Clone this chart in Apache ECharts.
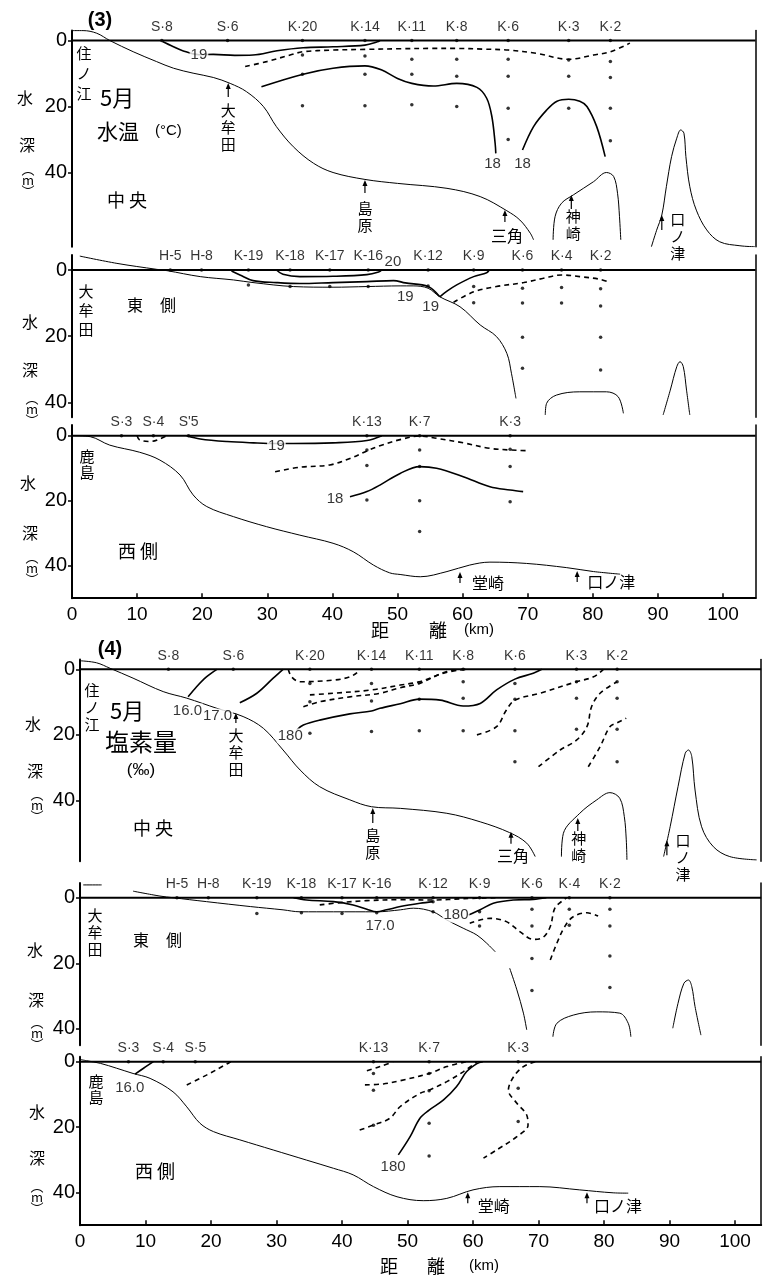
<!DOCTYPE html>
<html><head><meta charset="utf-8">
<script src="https://cdn.jsdelivr.net/npm/echarts@6/dist/echarts.min.js"></script>
<style>html,body{margin:0;padding:0;background:#fff}#c{width:768px;height:1284px}</style>
</head><body><div id="c"></div>
<script>
// ---------------- DATA (km, depth m) ----------------
const xTicks=[0,10,20,30,40,50,60,70,80,90,100];
const yTicks=[0,20,40];

// (3) 水温 中央
const stationsT_C=[['S·8',13.8],['S·6',23.9],['K·20',35.4],['K·14',45.0],['K·11',52.2],['K·8',59.1],['K·6',67.0],['K·3',76.3],['K·2',82.7]];
const dotsT_C=[[13.8,0],[23.9,0],[35.4,0],[35.4,4.4],[35.4,10.2],[35.4,19.8],[45.0,0],[45.0,4.7],[45.0,10.2],[45.0,19.8],
 [52.2,0],[52.2,5.7],[52.2,10.2],[52.2,19.5],[59.1,0],[59.1,5.7],[59.1,10.8],[59.1,20.0],[67.0,0],[67.0,5.7],[67.0,10.8],[67.0,20.5],[67.0,30.0],
 [76.3,0],[76.3,5.9],[76.3,10.8],[76.3,20.5],[82.7,0],[82.7,6.4],[82.7,11.2],[82.7,20.5],[82.7,30.4]];
const bottomT_C=[
 [[0,-3],[1.7,-3],[3.8,-2.2],[5.8,0],[9.4,3.4],[13,6.4],[15.6,8.4],[18.6,9.9],[21.7,11.2],[24.3,13],[26.8,15.5],[29.4,20],[31.4,26.1],[34,32.2],[37.1,37.2],[40.1,40],[45,42.1],[50,43.3],[57.6,44.8],[62.7,47.3],[66.8,51.6],[68.8,54.4],[70.4,58.4],[70.9,60.4]],
 [[73.9,60.4],[74.2,53.4],[75.2,49.3],[77,46.8],[80.1,42.8],[82.1,40],[83.2,41.2],[83.8,46.3],[84.1,53.4],[84.3,60.4]],
 [[89.0,62.5],[89.8,57.5],[90.6,52.9],[91.3,44.3],[92.1,35.2],[92.9,29.6],[93.5,27.1],[94.0,28.1],[94.3,35.2],[94.9,44.3],[95.9,51.4],[97.5,57.4],[99.5,61],[102.6,62.2],[104.9,62.5]]
];
const isoSolidT_C=[
 [[13.9,0.3],[15.5,1.8],[17,3.1],[19.5,4.3],[21.7,4.2],[25,4.5],[27.8,4.4],[31.5,3.1],[35.5,2.2],[40.1,1.9],[45,1.4],[46.9,0.4],[47.3,0]],
 [[29.1,14],[35.5,10.2],[40.1,8.4],[45,7.7],[47.5,8.9],[50,11.5],[52.2,13],[55.5,13.8],[59.1,13],[62.2,14.2],[63.7,17.5],[64.5,23.1],[65.0,31.2],[65.1,34.2]],
 [[69.2,33.2],[70.9,26.1],[72.9,21.1],[74.5,18.4],[76.3,17.8],[78,18.4],[79.1,20],[80.6,26.1],[81.9,35.2]]
];
const isoDashT_C=[
 [[26.6,7.9],[29.9,6.4],[33.5,4.4],[35.5,3.4],[40.1,2.9],[45,2.7],[50.4,2.5],[55,2.4],[59.1,2.4],[63,2.6],[67.0,2.9],[71.4,3.9],[76.3,5.7],[80.1,4.4],[82.7,3.4],[85.7,0.8]]
];
const isoLabelsT_C=[['19',19.5,4.4],['18',64.6,37.3],['18',69.2,37.3]];
const placesT_C=[['大牟田',24.0,12.9],['島原',45.0,42.3],['三角',66.5,51.4],['神崎',76.7,46.8],['口ノ津',90.6,52.9]];

// (3) 水温 東側
const stationsT_E=[['H-5',15.1],['H-8',19.9],['K-19',27.1],['K-18',33.5],['K-17',39.6],['K-16',45.5],['K·12',54.7],['K·9',61.7],['K·6',69.2],['K·4',75.2],['K·2',81.2]];
const dotsT_E=[[15.1,0],[19.9,0],[27.1,0],[27.1,4.5],[33.5,0],[33.5,5],[39.6,0],[39.6,5],[45.5,0],[45.5,5],[54.7,0],[54.7,4.8],
 [61.7,0],[61.7,5],[61.7,9.9],[69.2,0],[69.2,5.5],[69.2,10],[69.2,20.3],[69.2,29.7],[75.2,0],[75.2,5.3],[75.2,10],
 [81.2,0],[81.2,5.7],[81.2,10.9],[81.2,20.3],[81.2,30.2]];
const bottomT_E=[
 [[1.2,-4.2],[6.9,-2.0],[13,-0.2],[14.6,0.2],[19.7,2],[24.8,3],[27.8,3.8],[34,5],[40.1,5.2],[45.3,5],[50.4,4.8],[52.4,4.8],[54.7,5.5],[56.5,8.1],[59.6,11.1],[62.7,16.6],[65.2,20.1],[66.8,25.2],[67.5,31.2],[68.2,38.8]],
 [[72.7,43.8],[72.9,40.3],[74.4,37.8],[78,36.8],[82.1,36.8],[83.9,38.3],[84.7,43.3]],
 [[90.8,43.8],[91.9,36.3],[92.9,29.2],[93.4,27.7],[93.9,29.2],[94.4,36.3],[94.9,43.8]]
];
const isoSolidT_E=[
 [[31.4,0],[32.4,1.3],[35,2],[40.1,1.9],[45.3,1.4],[47.1,0.6],[47.6,0]],
 [[24.5,0.3],[25.8,1.5],[27.8,3.2],[31.4,3.8],[35,4.1],[40.1,3.8],[45.3,3.5],[49.4,3.2],[51.2,3.9],[54.7,5],[56.5,8.1]],
 [[56.5,8.1],[57.6,6.4],[59.1,4.5],[61.7,2],[63.7,0.8],[64.1,0]]
];
const isoDashT_E=[
 [[58.6,9.8],[61.7,6.6],[65.2,5],[69.4,3.8],[72.4,2.5],[75.2,1.5],[78,2],[81.1,2.8],[82.6,3.8]]
];
const isoLabelsT_E=[['20',49.3,-2.6],['19',51.2,8.0],['19',55.1,11.0]];

// (3) 水温 西側
const stationsT_W=[['S·3',7.6],['S·4',12.5],["S'5",17.9],['K·13',45.3],['K·7',53.4],['K·3',67.3]];
const dotsT_W=[[7.6,0],[12.5,0],[17.9,0],[45.3,0],[45.3,4.4],[45.3,9.2],[45.3,19.8],[53.4,0],[53.4,4.4],[53.4,9.5],[53.4,20.0],[53.4,29.5],
 [67.3,0],[67.3,4.2],[67.3,9.5],[67.3,20.3]];
const bottomT_W=[
 [[0.2,0],[2.8,0.3],[5.8,2.9],[10.4,5.1],[13.5,7.5],[16.6,12.1],[18.6,18.2],[20.7,21.8],[24.8,24.9],[29.9,28],[35,30.6],[40.1,33.1],[43.2,35.7],[46.3,39.8],[48.8,42.2],[50.4,42.7],[53.5,43.4],[57.6,41.8],[61.1,39.8],[64.2,38.9],[69.8,39.3],[76,40.6],[80.1,41.8],[84.2,42.6]]
];
const isoSolidT_W=[
 [[17.6,0],[19.7,1],[23.8,1.8],[27.9,2.2],[31.4,2.4],[34,2.4],[40.1,2.2],[45.3,1.5],[47.6,0]],
 [[42.7,18.8],[45.3,17.2],[47.3,15.2],[50.4,11.6],[53.4,9.5],[56,10],[60.1,12.6],[64.2,15.7],[67.3,16.7],[69.3,17.2]]
];
const isoDashT_W=[
 [[10.0,0],[10.4,1.3],[12,1.8],[13.5,1],[14.5,0]],
 [[31.2,11.1],[35,9.7],[39.6,9],[42.7,7],[45.3,4.7],[47.3,3.1],[50.4,1.2],[53.4,0.1],[56,0.8],[60.1,2.2],[64.2,3.9],[67.3,4.4],[69.8,4.6]]
];
const isoLabelsT_W=[['19',31.4,3.2],['18',40.4,19.3]];
const placesT_W=[['堂崎',59.6,41.9],['口ノ津',77.6,41.6]];

// (4) 塩素量 中央
const stationsS_C=[['S·8',13.5],['S·6',23.4],['K·20',35.1],['K·14',44.5],['K·11',51.8],['K·8',58.5],['K·6',66.4],['K·3',75.8],['K·2',82.0]];
const dotsS_C=[[13.5,0],[23.4,0],[35.1,0],[35.1,4.3],[35.1,9.9],[35.1,19.5],[44.5,0],[44.5,4.3],[44.5,9.7],[44.5,19.0],
 [51.8,0],[51.8,4.1],[51.8,9.1],[51.8,18.7],[58.5,0],[58.5,3.8],[58.5,8.8],[58.5,18.7],[66.4,0],[66.4,4.3],[66.4,9.1],[66.4,18.7],[66.4,28.2],
 [75.8,0],[75.8,3.8],[75.8,8.8],[75.8,18.3],[82.0,0],[82.0,3.8],[82.0,8.8],[82.0,18.3],[82.0,28.2]];
const bottomS_C=[
 [[0,-2.6],[2.5,-2],[4.6,-0.3],[8.1,2.7],[12.7,6.8],[16.3,8.8],[20.9,11.9],[24.9,14.4],[28,18],[31,24.6],[33.6,30.7],[36.6,35.8],[41.2,39.8],[44.5,41.9],[48.9,42.4],[56,43.9],[61.1,46.5],[65.6,49.8],[68.2,53],[69.5,57.1]],
 [[73.5,57.1],[73.8,50],[76.3,43.9],[78.9,39.8],[80.9,37.6],[82.4,39.3],[83.1,44.9],[83.4,52],[83.5,58.1]],
 [[89.1,57.1],[90.1,48],[91.3,35.8],[92.4,25.6],[92.9,24.6],[93.4,26.6],[93.9,36.8],[94.9,48],[96.7,54.1],[99.2,57.1],[103.3,58.1]]
];
const isoSolidS_C=[
 [[20.9,0],[19.3,2.3],[17.8,5.3],[16.5,8.4]],
 [[31,0],[29.5,2.7],[27,7.3],[24.4,10.2]],
 [[33.1,18.5],[34.1,17],[36.6,15.5],[41.2,13.6],[44.5,12.7],[45.8,11.9],[48.9,10.5],[51.8,9.1],[55,9.4],[58.5,11.2],[61.1,10.4],[63.6,6.3],[66.4,3],[69.2,1.2],[70.5,0]]
];
const isoDashS_C=[
 [[31.8,0],[32.3,2.3],[33.6,3.8],[38.7,3.3],[41.2,2.3],[42.5,0.7],[42.7,0]],
 [[35.1,7.8],[38.7,7.3],[44.5,6.3],[48.9,4.8],[51.8,3.8],[55.5,1.2],[58.5,0]],
 [[34.1,11.4],[36.6,9.9],[41.2,8.4],[45.8,7.3],[48.9,5.6],[51.8,4.3],[56,0.7],[59.3,0]],
 [[60.6,20],[63.6,17.5],[65.1,12.4],[66.4,9.4],[70.2,7.3],[75.8,3.8],[78.4,2.3],[79.9,0]],
 [[70,29.7],[73.3,24.6],[75.8,21.6],[77.4,17.5],[78.1,11.4],[79.4,7.3],[82,3.8]],
 [[77.6,29.7],[79.4,23.6],[80.9,17.5],[82,16.3],[83.4,14.9]]
];
const isoLabelsS_C=[['16.0',16.4,12.7],['17.0',21.0,14.2],['180',32.1,20.3]];
const placesS_C=[['大牟田',23.8,13.3],['島原',44.7,42.3],['三角',65.8,49.5],['神崎',76.0,45.3],['口ノ津',89.6,52.1]];

// (4) 塩素量 東側
const stationsS_E=[['H-5',14.8],['H-8',19.6],['K-19',27],['K-18',33.8],['K-17',40],['K-16',45.3],['K·12',53.9],['K·9',61],['K·6',69],['K·4',74.7],['K·2',80.9]];
const dotsS_E=[[14.8,0],[19.6,0],[27,0],[27,4.8],[33.8,0],[33.8,4.6],[40,0],[40,4.8],[45.3,0],[45.3,4.6],[53.9,0],[53.9,1.2],[53.9,4.3],
 [61,0],[61,4.3],[61,8.6],[69,0],[69,3.5],[69,8.6],[69,18.5],[69,28.3],[74.7,0],[74.7,3.5],[74.7,8.4],
 [80.9,0],[80.9,3.5],[80.9,8.6],[80.9,17.8],[80.9,27.4]];
const bottomS_E=[
 [[0.5,-3.9],[3.3,-3.9]],
 [[8.1,-2],[12.2,-0.5],[14.2,0],[19.3,1.2],[26,2.7],[31,3.7],[33.6,4.3],[38.7,4.3],[45.3,4.3],[48.9,3.7],[50.9,3.2],[53.9,4.3],[56,6.8],[58.5,9.3],[60.6,11.4],[62.1,13.9],[63.4,16.5]],
 [[65.6,21.5],[66.7,28.1],[67.7,35.2],[68.2,40.3]],
 [[72.2,42.4],[72.8,38.3],[75.3,35.8],[78.9,34.8],[82.4,35.2],[83.7,38.3],[84.1,42.4]],
 [[90.5,39.8],[91.3,32.2],[92.2,26.1],[92.9,25.1],[93.4,27.1],[93.9,33.2],[94.8,41.9]]
];
const isoSolidS_E=[
 [[32.6,0],[34.6,0.7],[38.7,1.2],[41.7,2.2],[43.8,3.5],[45.3,4.3],[46.8,3.7],[48.9,2.7],[51.9,1.7],[53.9,1.2]],
 [[59.3,5.3],[61.1,3.7],[63.1,1.7],[66.2,0.7],[69.2,0.5],[71.2,0]]
];
const isoDashS_E=[
 [[36.6,2.2],[39.7,1.5],[43.8,0.9],[48.9,0.6],[53.9,0.7],[58.5,0.3],[63.6,0]],
 [[59.5,7.8],[62.6,6.3],[65.1,7.3],[67.2,10.4],[69.2,12.7],[70.7,12.1],[71.8,8.8],[72.5,3.2],[73.8,0.7],[74.3,0]],
 [[71.8,19],[72.8,13.9],[74,8.8],[75.3,5.8],[77.4,4.6],[79.1,5.6]]
];
const isoLabelsS_E=[['17.0',45.8,8.6],['180',57.4,5.3]];

// (4) 塩素量 西側
const stationsS_W=[['S·3',7.4],['S·4',12.7],['S·5',17.6],['K·13',44.8],['K·7',53.3],['K·3',66.9]];
const dotsS_W=[[7.4,0],[12.7,0],[17.6,0],[44.8,0],[44.8,3.6],[44.8,8.7],[44.8,19.4],[53.3,0],[53.3,3.6],[53.3,8.9],[53.3,18.8],[53.3,28.8],
 [66.9,0],[66.9,8.1],[66.9,18.3]];
const bottomS_W=[
 [[0,-0.7],[1,-0.3],[3.1,0.5],[5.6,2],[8.1,3.6],[10.7,5.1],[14.2,9.2],[16.3,13.8],[18.3,18.8],[20.4,21.4],[24.4,23.9],[29.5,27],[34.6,30.1],[38.7,32.6],[41.7,34.6],[44.8,38.2],[48.4,41.3],[52.4,42.5],[56,41.8],[60,39.2],[64.1,38.2],[70.2,38.2],[76.3,39.2],[81.4,40.1],[83.7,40.2]]
];
const isoSolidS_W=[
 [[11.2,0],[9.7,2],[8.4,3.8]],
 [[48.6,28.5],[50.4,22.9],[51.9,17.3],[53.3,14.8],[55.5,11.7],[57.5,7.6],[59,3.1],[60.6,0.6],[61.5,0]]
];
const isoDashS_W=[
 [[16.3,7.1],[19.3,4.1],[22.4,0.7],[23,0]],
 [[43.8,2.8],[45.8,1.5],[47.8,0]],
 [[43.5,7.1],[46.3,6.8],[48.9,5.8],[53.3,3.6],[56,1.5],[59,0]],
 [[42.7,20.9],[44.8,19.4],[47.3,17.3],[48.9,13.7],[51.9,9.7],[53.3,8.7],[56,6.1],[58.5,3.1],[60.6,0]],
 [[69.5,0],[67.7,1.5],[66.2,4.6],[65.4,8.7],[66.7,12.7],[68.2,16.3],[68.4,19.4],[66.7,22.9],[63.6,27],[61.6,29.5]]
];
const isoLabelsS_W=[['16.0',7.6,7.9],['180',47.8,32.1]];
const placesS_W=[['堂崎',59.2,39.9],['口ノ津',77.4,39.9]];

// ---------------- LAYOUT / STYLE ----------------
const FONT_NUM="'Liberation Sans Narrow','Liberation Sans',Arial,sans-serif";
const FONT_LAB="'Liberation Sans',Arial,sans-serif";
const FONT_CJK="'Noto Sans CJK JP','Noto Sans CJK SC',sans-serif";

const layC3={'大牟田':{v:1,L:14,dx:0,dy:19},'島原':{v:1,L:13,dx:0,dy:20},'三角':{v:0,L:12,dx:2,dy:17},'神崎':{v:1,L:14,dx:2,dy:13},'口ノ津':{v:1,L:15,dx:16,dy:-4}};
const layW3={'堂崎':{v:0,L:11,dx:28,dy:3},'口ノ津':{v:0,L:11,dx:34,dy:3}};
const layC4={'大牟田':{v:1,L:10,dx:0,dy:14},'島原':{v:1,L:15,dx:0,dy:19},'三角':{v:0,L:12,dx:2,dy:16},'神崎':{v:1,L:13,dx:1,dy:12},'口ノ津':{v:1,L:15,dx:16,dy:-8}};
const layW4={'堂崎':{v:0,L:11,dx:26,dy:5},'口ノ津':{v:0,L:11,dx:31,dy:5}};

const panels=[
 {left:72,pxKm:6.51,kmMax:105,y0:40.5,pxM:3.3,dmin:-3,dmax:62.5,xLab:false,st:stationsT_C,dots:dotsT_C,bot:bottomT_C,sol:isoSolidT_C,dash:isoDashT_C,lab:isoLabelsT_C,pl:placesT_C,lay:layC3},
 {left:72,pxKm:6.51,kmMax:105,y0:270,pxM:3.31,dmin:-4.5,dmax:44.5,xLab:false,st:stationsT_E,dots:dotsT_E,bot:bottomT_E,sol:isoSolidT_E,dash:isoDashT_E,lab:isoLabelsT_E,pl:[],lay:{}},
 {left:72,pxKm:6.51,kmMax:105,y0:435.7,pxM:3.25,dmin:-3.3,dmax:50,xLab:true,st:stationsT_W,dots:dotsT_W,bot:bottomT_W,sol:isoSolidT_W,dash:isoDashT_W,lab:isoLabelsT_W,pl:placesT_W,lay:layW3},
 {left:80,pxKm:6.55,kmMax:104,y0:669.3,pxM:3.28,dmin:-3,dmax:58.5,xLab:false,st:stationsS_C,dots:dotsS_C,bot:bottomS_C,sol:isoSolidS_C,dash:isoDashS_C,lab:isoLabelsS_C,pl:placesS_C,lay:layC4},
 {left:80,pxKm:6.55,kmMax:104,y0:897.7,pxM:3.28,dmin:-4.5,dmax:45,xLab:false,st:stationsS_E,dots:dotsS_E,bot:bottomS_E,sol:isoSolidS_E,dash:isoDashS_E,lab:isoLabelsS_E,pl:[],lay:{}},
 {left:80,pxKm:6.55,kmMax:104,y0:1061.7,pxM:3.27,dmin:-1.5,dmax:50,xLab:true,st:stationsS_W,dots:dotsS_W,bot:bottomS_W,sol:isoSolidS_W,dash:isoDashS_W,lab:isoLabelsS_W,pl:placesS_W,lay:layW4}
];

const grids=[],xAxes=[],yAxes=[],series=[];
panels.forEach((p,i)=>{
  grids.push({left:p.left,top:p.y0+p.dmin*p.pxM,width:p.kmMax*p.pxKm,height:(p.dmax-p.dmin)*p.pxM,containLabel:false,outerBoundsMode:'none',show:false});
  xAxes.push({gridIndex:i,type:'value',min:0,max:p.kmMax,show:p.xLab,position:'bottom',
    axisLine:{show:true,onZero:false,lineStyle:{color:'#000',width:2}},
    axisTick:{show:true,inside:true,length:5,customValues:xTicks,lineStyle:{color:'#000',width:1.5}},
    axisLabel:{show:true,customValues:xTicks,fontSize:19,color:'#000',margin:7,fontFamily:FONT_NUM},
    splitLine:{show:false}});
  yAxes.push({gridIndex:i,type:'value',min:p.dmin,max:p.dmax,inverse:true,position:'left',
    axisLine:{show:true,onZero:false,lineStyle:{color:'#000',width:2}},
    axisTick:{show:true,customValues:yTicks,length:4,lineStyle:{color:'#000',width:1.5}},
    axisLabel:{show:true,customValues:yTicks,fontSize:20,margin:5,color:'#000',fontFamily:FONT_NUM},
    splitLine:{show:false}});
});
panels.forEach((p,i)=>{
  yAxes.push({gridIndex:i,type:'value',min:p.dmin,max:p.dmax,inverse:true,position:'right',
    axisLine:{show:true,onZero:false,lineStyle:{color:'#000',width:1.5}},
    axisTick:{show:false},axisLabel:{show:false},splitLine:{show:false}});
});

function lineS(i,data,width,dashed,z){
  return {type:'line',xAxisIndex:i,yAxisIndex:i,data:data,symbol:'none',smooth:0.35,silent:true,z:z||2,
    lineStyle:{color:'#000',width:width,type:dashed?[5,4]:'solid'}};
}
panels.forEach((p,i)=>{
  series.push(lineS(i,[[0,0],[p.kmMax,0]],2,false,3));
  p.bot.forEach(b=>series.push(lineS(i,b,1,false)));
  p.sol.forEach(b=>series.push(lineS(i,b,1.6,false)));
  p.dash.forEach(b=>series.push(lineS(i,b,1.6,true)));
  series.push({type:'scatter',xAxisIndex:i,yAxisIndex:i,data:p.dots,symbolSize:3.5,itemStyle:{color:'#000'},silent:true,z:4});
  series.push({type:'scatter',xAxisIndex:i,yAxisIndex:i,silent:true,z:4,symbolSize:1,itemStyle:{color:'rgba(0,0,0,0)'},
    data:p.st.map(s=>({name:s[0],value:[s[1],0]})),
    label:{show:true,position:'top',distance:6,formatter:'{b}',fontSize:14,color:'#000',fontFamily:FONT_LAB}});
  series.push({type:'scatter',xAxisIndex:i,yAxisIndex:i,silent:true,z:6,symbolSize:1,itemStyle:{color:'rgba(0,0,0,0)'},
    data:p.lab.map(s=>({name:s[0],value:[s[1],s[2]],label:s[2]<0?{backgroundColor:'transparent'}:{}})),
    label:{show:true,position:'inside',formatter:'{b}',fontSize:15,color:'#000',fontFamily:FONT_NUM,backgroundColor:'#fff',padding:[0,1]}});
  if(p.pl.length){
    series.push({type:'custom',xAxisIndex:i,yAxisIndex:i,silent:true,z:5,clip:false,
      data:p.pl.map(s=>[s[1],s[2]]),
      renderItem:function(params,api){
        const pt=api.coord([api.value(0),api.value(1)]);
        const name=p.pl[params.dataIndex][0];
        const l=p.lay[name];
        const txt=l.v?name.split('').join('\n'):name;
        return {type:'group',children:[
          {type:'line',shape:{x1:pt[0],y1:pt[1]+3,x2:pt[0],y2:pt[1]+l.L},style:{stroke:'#000',lineWidth:1.2}},
          {type:'polygon',shape:{points:[[pt[0],pt[1]],[pt[0]-2.5,pt[1]+6],[pt[0]+2.5,pt[1]+6]]},style:{fill:'#000'}},
          {type:'text',x:pt[0]+l.dx,y:pt[1]+l.dy,style:{text:txt,font:(l.v?15:16)+'px '+FONT_CJK,fill:'#000',
            align:'center',verticalAlign:'top',textAlign:'center',textVerticalAlign:'top',lineHeight:17}}
        ]};
      }});
  }
});

function T(x,y,text,size,o){
  o=o||{};
  const a=o.align||'center', va=o.valign||'middle';
  return {type:'text',x:x,y:y,silent:true,z:10,style:{text:text,font:(o.weight||'normal')+' '+size+'px '+(o.family||FONT_CJK),fill:'#000',
    align:a,verticalAlign:va,textAlign:a,textVerticalAlign:va,lineHeight:o.lh||size}};
}
const vt=s=>s.split('').join('\n');
const graphic=[
 T(100,20,'(3)',20,{weight:'bold',family:FONT_LAB}),
 T(84,43,vt('住ノ江'),15,{valign:'top',lh:20}),
 T(100,98,'5月',22,{align:'left'}),
 T(97,131,'水温',21,{align:'left'}),
 T(155,131,'(°C)',15,{align:'left',family:FONT_LAB}),
 T(107,200,'中 央',18,{align:'left'}),
 T(25,98,'水',16), T(27,145,'深',16), T(28,180,'︵\nm\n︶',13,{lh:11}),
 T(86,282,vt('大牟田'),15,{valign:'top',lh:19}),
 T(135,305,'東',16), T(168,305,'側',16),
 T(30,322,'水',16), T(30,370,'深',16), T(32,409,'︵\nm\n︶',13,{lh:11}),
 T(87,448,vt('鹿島'),15,{valign:'top',lh:16}),
 T(118,551,'西 側',18,{align:'left'}),
 T(28,483,'水',16), T(30,533,'深',16), T(32,568,'︵\nm\n︶',13,{lh:11}),
 T(380,630,'距',18), T(438,630,'離',18), T(479,630,'(km)',15,{family:FONT_LAB}),
 T(110,649,'(4)',20,{weight:'bold',family:FONT_LAB}),
 T(92,682,vt('住ノ江'),15,{valign:'top',lh:17}),
 T(110,711,'5月',22,{align:'left'}),
 T(105,742,'塩素量',24,{align:'left'}),
 T(141,770,'(‰)',17,{family:FONT_LAB}),
 T(133,828,'中 央',18,{align:'left'}),
 T(33,724,'水',16), T(35,771,'深',16), T(37,805,'︵\nm\n︶',13,{lh:11}),
 T(95,907,vt('大牟田'),15,{valign:'top',lh:17}),
 T(141,940,'東',16), T(174,940,'側',16),
 T(35,950,'水',16), T(36,1000,'深',16), T(37,1033,'︵\nm\n︶',13,{lh:11}),
 T(96,1073,vt('鹿島'),15,{valign:'top',lh:16}),
 T(135,1171,'西 側',18,{align:'left'}),
 T(37,1112,'水',16), T(37,1158,'深',16), T(37,1197,'︵\nm\n︶',13,{lh:11}),
 T(389,1266,'距',18), T(436,1266,'離',18), T(484,1266,'(km)',15,{family:FONT_LAB})
];

const chart=echarts.init(document.getElementById('c'),null,{renderer:'canvas'});
chart.setOption({animation:false,backgroundColor:'#fff',grid:grids,xAxis:xAxes,yAxis:yAxes,series:series,graphic:graphic});
</script></body></html>
